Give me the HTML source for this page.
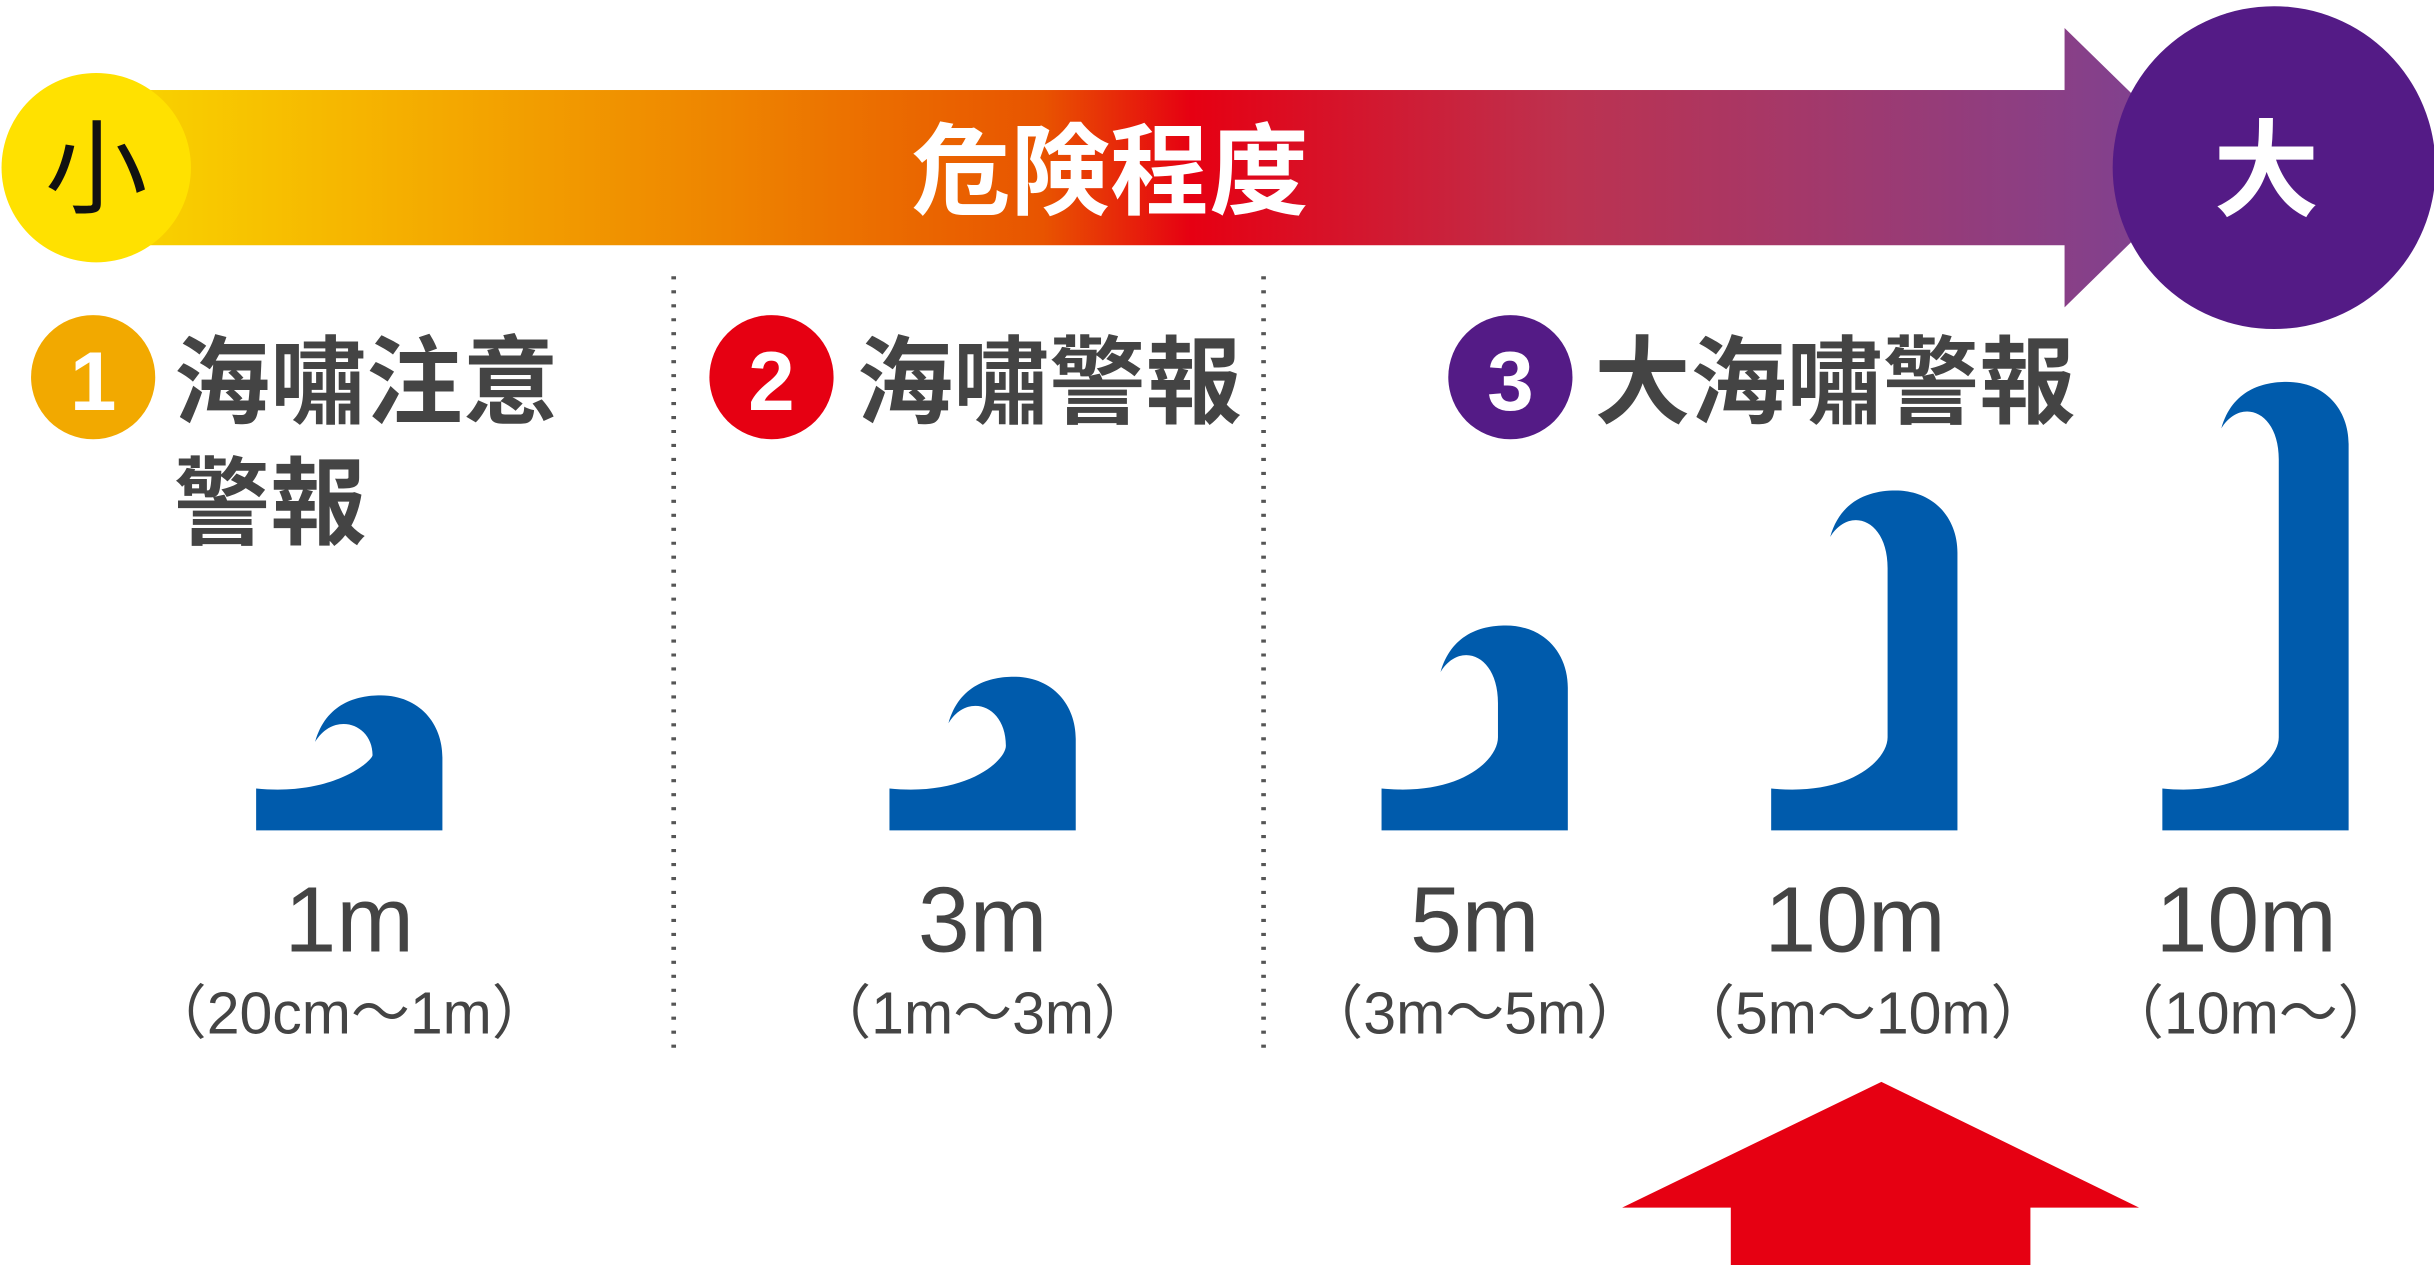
<!DOCTYPE html>
<html><head><meta charset="utf-8"><style>
html,body{margin:0;padding:0;background:#fff;}
svg{display:block;}
text{font-family:"Liberation Sans","Noto Sans CJK TC","Noto Sans CJK JP",sans-serif;}
</style></head><body>
<svg id="s" width="2434" height="1265" viewBox="0 0 1568 815" preserveAspectRatio="none" xmlns="http://www.w3.org/2000/svg">
<defs>
<linearGradient id="g" x1="60" y1="0" x2="1420" y2="0" gradientUnits="userSpaceOnUse">
<stop offset="0" stop-color="#f9d800"/>
<stop offset="0.12" stop-color="#f6b600"/>
<stop offset="0.3" stop-color="#ee8400"/>
<stop offset="0.45" stop-color="#e85400"/>
<stop offset="0.52" stop-color="#e60012"/>
<stop offset="0.7" stop-color="#bc3250"/>
<stop offset="1" stop-color="#7a4396"/>
</linearGradient>
</defs>
<rect x="60" y="58" width="1272" height="100" fill="url(#g)"/>
<polygon points="1330,18 1422,108 1330,198" fill="url(#g)"/>
<circle cx="62" cy="108" r="61" fill="#ffe100"/>
<text x="62" y="132" font-size="66" text-anchor="middle" fill="#111">小</text>
<circle cx="1465" cy="108" r="104" fill="#541b86"/>
<text x="1460" y="134" font-size="68" font-weight="bold" text-anchor="middle" fill="#fff">大</text>
<text x="715" y="133" font-size="64" font-weight="bold" text-anchor="middle" fill="#fff">危険程度</text>

<line x1="434" y1="178" x2="434" y2="680" stroke="#555" stroke-width="3" stroke-dasharray="2,7"/>
<line x1="814" y1="178" x2="814" y2="680" stroke="#555" stroke-width="3" stroke-dasharray="2,7"/>

<circle cx="60" cy="243" r="40" fill="#f2a900"/>
<text x="60" y="264" font-size="54" font-weight="bold" text-anchor="middle" fill="#fff">1</text>
<circle cx="497" cy="243" r="40" fill="#e60012"/>
<text x="497" y="264" font-size="54" font-weight="bold" text-anchor="middle" fill="#fff">2</text>
<circle cx="973" cy="243" r="40" fill="#541b86"/>
<text x="973" y="264" font-size="54" font-weight="bold" text-anchor="middle" fill="#fff">3</text>

<g fill="#444" font-size="62" font-weight="bold">
<text x="112" y="268">海嘯注意</text>
<text x="112" y="346">警報</text>
<text x="552" y="268">海嘯警報</text>
<text x="1027" y="268">大海嘯警報</text>
</g>

<g id="waves" fill="#005bac"></g>

<g fill="#444" text-anchor="middle">
<text x="225" y="613" font-size="60">1m</text>
<text x="633" y="613" font-size="60">3m</text>
<text x="950" y="613" font-size="60">5m</text>
<text x="1195" y="613" font-size="60">10m</text>
<text x="1447" y="613" font-size="60">10m</text>
<text x="225" y="666" font-size="38">（20cm〜1m）</text>
<text x="633" y="666" font-size="38">（1m〜3m）</text>
<text x="950" y="666" font-size="38">（3m〜5m）</text>
<text x="1200" y="666" font-size="38">（5m〜10m）</text>
<text x="1450" y="666" font-size="38">（10m〜）</text>
</g>

<polygon points="1045,778 1212,697 1378,778" fill="#e60012"/>
<rect x="1115" y="776" width="193" height="40" fill="#e60012"/>
</svg>
<script>
var W=[[165,448],[573,436],[890,403],[1141,316],[1393,246]],B=535,g=document.getElementById('waves');
W.forEach(function(w){var x=w[0],T=w[1];var ya=B-60,yb=T+50;if(yb>ya){var m=(ya+yb)/2;ya=m;yb=m;}
var d='M'+x+' '+B+' L'+x+' '+(B-27)+' C'+(x+50)+' '+(B-22)+' '+(x+75)+' '+(B-45)+' '+(x+75)+' '+ya+
' L'+(x+75)+' '+yb+' C'+(x+75)+' '+(T+18)+' '+(x+50)+' '+(T+10)+' '+(x+38)+' '+(T+30)+
' C'+(x+45)+' '+(T+5)+' '+(x+65)+' '+T+' '+(x+80)+' '+T+' C'+(x+105)+' '+T+' '+(x+120)+' '+(T+18)+' '+(x+120)+' '+(T+40)+
' L'+(x+120)+' '+B+' Z';
var p=document.createElementNS('http://www.w3.org/2000/svg','path');p.setAttribute('d',d);g.appendChild(p);});
</script>
</body></html>
